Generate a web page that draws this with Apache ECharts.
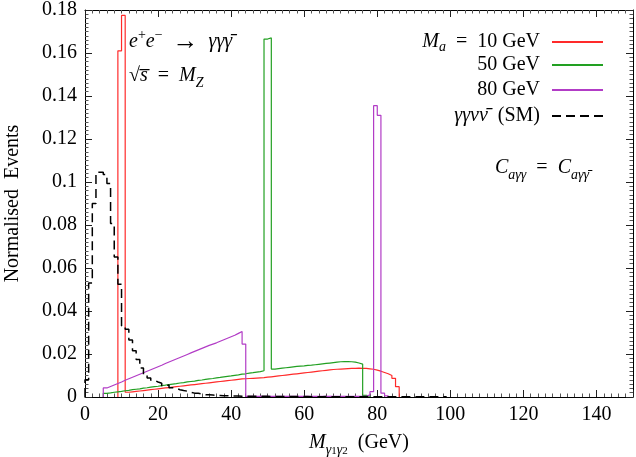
<!DOCTYPE html>
<html>
<head>
<meta charset="utf-8">
<script src="https://cdn.jsdelivr.net/npm/echarts@6/dist/echarts.min.js"></script>
<style>html,body{margin:0;background:#fff}#chart{width:636px;height:457px}</style>
</head>
<body>
<div id="chart"></div>
<script>
// histograms, 1 GeV bins; each array starts at its own lower edge
const smStart = 0;
const smBins = [
  0.008, 0.053, 0.090, 0.1045, 0.1045, 0.1035, 0.0993, 0.0807, 0.0651, 0.0525,
  0.0330, 0.0315, 0.0265, 0.0215, 0.0175, 0.0135, 0.0105, 0.0088, 0.0078, 0.0070,
  0.0064, 0.0052, 0.0056, 0.0043, 0.0040, 0.0034, 0.0030, 0.0027, 0.0022, 0.0018,
  0.0017, 0.0014, 0.0011, 0.0010, 0.0009, 0.0008, 0.0007, 0.0006, 0.0006, 0.0005,
  0.0005, 0.0005, 0.0004, 0.0004, 0.0004, 0.0003, 0.0004, 0.0003, 0.0003, 0.0003,
  0.0002, 0.0003, 0.0002, 0.0002, 0.0003, 0.0002, 0.0002, 0.0002, 0.0002, 0.0002,
  0.0002, 0.0001, 0.0002, 0.0001, 0.0001, 0.0002, 0.0001, 0.0001, 0.0001, 0.0001,
  0.0001, 0.0001, 0.0001, 0.0001, 0.0001, 0.0001, 0.0001, 0.0001, 0.0001, 0.0001,
  0.0001, 0.0001, 0.0001, 0.0001, 0.0001, 0.0001, 0.0001, 0.0001, 0.0001, 0.0001,
  0.0001, 0.0001, 0.0001, 0.0001, 0.0001, 0.0001, 0.0001, 0.0001, 0.0001
];

const ma10Start = 9;
const ma10Bins = [
  0.1610, 0.1775, 0.0022, 0.0024, 0.0026, 0.0028, 0.0030, 0.0032, 0.0034, 0.0036,
  0.0038, 0.0040, 0.0042, 0.0044, 0.0046, 0.0048, 0.0050, 0.0052, 0.0054, 0.0056,
  0.0058, 0.0060, 0.0062, 0.0064, 0.0066, 0.0068, 0.0070, 0.0072, 0.0074, 0.0076,
  0.0078, 0.0080, 0.0082, 0.0084, 0.0085, 0.0086, 0.0087, 0.0088, 0.0089, 0.0090,
  0.0092, 0.0094, 0.0096, 0.0098, 0.0100, 0.0102, 0.0104, 0.0106, 0.0108, 0.0110,
  0.0112, 0.0114, 0.0116, 0.0118, 0.0120, 0.0122, 0.0124, 0.0126, 0.0128, 0.0129,
  0.0130, 0.0131, 0.0132, 0.0133, 0.0133, 0.0134, 0.0133, 0.0133, 0.0131, 0.0129,
  0.0125, 0.0120, 0.0114, 0.0108, 0.0100, 0.0087, 0.0048
];

const ma50Start = 5;
const ma50Bins = [
  0.0017, 0.0019, 0.0022, 0.0024, 0.0026, 0.0029, 0.0031, 0.0034, 0.0036, 0.0038,
  0.0041, 0.0043, 0.0046, 0.0048, 0.0050, 0.0053, 0.0055, 0.0058, 0.0060, 0.0062,
  0.0065, 0.0067, 0.0070, 0.0072, 0.0074, 0.0077, 0.0079, 0.0082, 0.0084, 0.0086,
  0.0089, 0.0091, 0.0094, 0.0096, 0.0098, 0.0101, 0.0103, 0.0106, 0.0108, 0.0111,
  0.0113, 0.0116, 0.0118, 0.0122, 0.1665, 0.1670, 0.0130, 0.0132, 0.0134, 0.0136,
  0.0138, 0.0140, 0.0142, 0.0144, 0.0145, 0.0147, 0.0148, 0.0150, 0.0152, 0.0154,
  0.0156, 0.0158, 0.0160, 0.0162, 0.0164, 0.0165, 0.0165, 0.0164, 0.0162, 0.0158,
  0.0153, 0.0008, 0.0004
];

const ma80Start = 5;
const ma80Bins = [
  0.0042, 0.0049, 0.0056, 0.0063, 0.0070, 0.0078, 0.0085, 0.0092, 0.0099, 0.0106,
  0.0113, 0.0120, 0.0127, 0.0134, 0.0141, 0.0148, 0.0156, 0.0163, 0.0170, 0.0177,
  0.0184, 0.0191, 0.0198, 0.0205, 0.0212, 0.0219, 0.0226, 0.0233, 0.0240, 0.0246,
  0.0252, 0.0259, 0.0266, 0.0273, 0.0280, 0.0287, 0.0296, 0.0305, 0.0246, 0.0003,
  0.0003, 0.0003, 0.0003, 0.0003, 0.0003, 0.0003, 0.0003, 0.0003, 0.0003, 0.0003,
  0.0003, 0.0003, 0.0003, 0.0003, 0.0003, 0.0003, 0.0003, 0.0003, 0.0003, 0.0003,
  0.0003, 0.0003, 0.0003, 0.0003, 0.0003, 0.0003, 0.0003, 0.0003, 0.0003, 0.0003,
  0.0003, 0.0003, 0.0010, 0.0025, 0.1355, 0.1310, 0.0018, 0.0005
];

const xMin = 0, xMax = 150, xStep = 20;
const yMin = 0, yMax = 0.18, yStep = 0.02;

const FONT = 'Liberation Serif';
const FS = 20;

function mathRich(size, lh) {
  const base = { fontFamily: FONT, color: '#000', lineHeight: lh || size * 1.4 };
  return {
    t: { ...base, fontSize: size },
    it: { ...base, fontSize: size, fontStyle: 'italic' },
    arr: { ...base, fontSize: size * 1.3 },
    sub: { ...base, fontSize: size * 0.7, fontStyle: 'italic', lineHeight: size * 0.85, verticalAlign: 'bottom' },
    subr: { ...base, fontSize: size * 0.55, lineHeight: size * 0.7, verticalAlign: 'bottom' },
    sup: { ...base, fontSize: size * 0.7, lineHeight: size * 0.85, verticalAlign: 'top' },
  };
}

// step 'end' draws the bin top first, then the edge
function histData(start, bins) {
  const pts = [[start, 0]];
  bins.forEach((v, i) => pts.push([start + i, v]));
  pts.push([start + bins.length, 0]);
  return pts;
}

const seriesDefs = [
  { name: 'ma10', label: '{it|M}{sub|a}{t|  =  10 GeV}', color: '#ff2a2a', start: ma10Start, bins: ma10Bins, top: 32 },
  { name: 'ma50', label: '{t|50 GeV}', color: '#22a022', start: ma50Start, bins: ma50Bins, top: 55 },
  { name: 'ma80', label: '{t|80 GeV}', color: '#b23cc6', start: ma80Start, bins: ma80Bins, top: 80 },
  { name: 'sm', label: '{it|γγνν\u0304}{t|  (SM)}', color: '#000', start: smStart, bins: smBins, top: 106, dashed: true },
];

const chart = echarts.init(document.getElementById('chart'), null, { renderer: 'canvas' });

const axisCommon = {
  type: 'value',
  axisLine: { show: true, onZero: false, lineStyle: { color: '#000', width: 1 } },
  axisTick: { show: true, inside: true, length: 7, lineStyle: { color: '#222', width: 1 } },
  minorTick: { show: true, splitNumber: 10, length: 3.5, lineStyle: { color: '#555', width: 1 } },
  splitLine: { show: false },
};

chart.setOption({
  backgroundColor: '#fff',
  animation: false,
  // only the tick labels are kept inside the canvas; the axis names may sit near the edge
  grid: { left: 85, top: 9, width: 548, height: 388, outerBoundsContain: 'axisLabel' },
  xAxis: [
    {
      ...axisCommon, position: 'bottom', min: xMin, max: xMax, interval: xStep,
      axisLabel: { fontFamily: FONT, fontSize: FS, color: '#000', margin: 8, showMaxLabel: false },
      name: '{it|M}{sub|γ}{subr|1}{sub|γ}{subr|2}{t|  (GeV)}',
      nameLocation: 'middle', nameGap: 32,
      nameTextStyle: { rich: mathRich(FS) },
    },
    { ...axisCommon, position: 'top', min: xMin, max: xMax, interval: xStep, axisLabel: { show: false } },
  ],
  yAxis: [
    {
      ...axisCommon, position: 'left', min: yMin, max: yMax, interval: yStep,
      axisLabel: { fontFamily: FONT, fontSize: FS, color: '#000', margin: 8 },
      name: 'Normalised  Events', nameLocation: 'middle', nameGap: 62,
      nameTextStyle: { fontFamily: FONT, fontSize: FS, color: '#000' },
    },
    { ...axisCommon, position: 'right', min: yMin, max: yMax, interval: yStep, axisLabel: { show: false } },
  ],
  legend: seriesDefs.map(s => ({
    data: [s.name],
    right: 32, top: s.top, orient: 'vertical', align: 'right',
    padding: 0, itemWidth: 51, itemHeight: 12,
    itemStyle: { opacity: 0 },
    formatter: () => s.label,
    textStyle: { rich: mathRich(FS, 24), padding: [0, 7, 0, 0] },
  })),
  graphic: [
    { type: 'text', x: 129, y: 42, style: { text: '{it|e}{sup|+}{it|e}{sup|−}{t|  }{arr|→}{t|  }{it|γγγ\u0304}', rich: mathRich(FS), verticalAlign: 'middle' } },
    { type: 'text', x: 129, y: 76, style: { text: '{t|√}{it|s\u0305}{t|  =  }{it|M}{sub|Z}', rich: mathRich(FS), verticalAlign: 'middle' } },
    { type: 'text', x: 542, y: 168, style: { text: '{it|C}{sub|aγγ}{t|  =  }{it|C}{sub|aγγ\u0304}', rich: mathRich(FS), align: 'center', verticalAlign: 'middle' } },
  ],
  series: seriesDefs.map(s => ({
    name: s.name,
    type: 'line',
    step: 'end',
    symbol: 'none',
    showSymbol: false,
    xAxisIndex: 0, yAxisIndex: 0,
    data: histData(s.start, s.bins),
    lineStyle: { color: s.color, width: s.dashed ? 1.5 : 1.2, type: s.dashed ? [9, 5] : 'solid' },
    itemStyle: { color: s.color },
    clip: true,
  })),
});
</script>
</body>
</html>
